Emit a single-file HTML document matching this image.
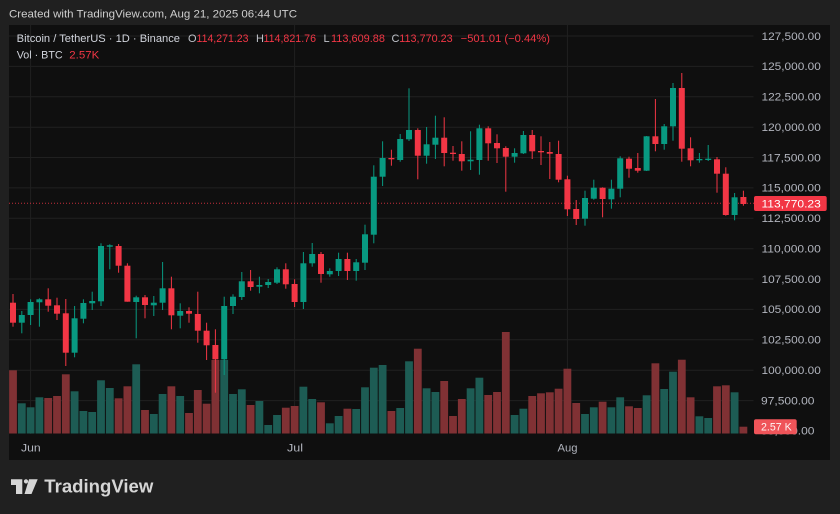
<!DOCTYPE html>
<html><head><meta charset="utf-8"><style>
html,body{margin:0;padding:0;background:#202020;}
body{width:840px;height:514px;overflow:hidden;}
svg{display:block;font-family:"Liberation Sans",Arial,sans-serif;}
.g rect{fill:#089981}
.r rect{fill:#f23645}
.vg{fill:#1d5c54}
.vr{fill:#803134}
.ax{fill:#b2b5be;font-size:11px}
</style></head><body>
<svg width="840" height="514" viewBox="0 0 840 514" xmlns="http://www.w3.org/2000/svg">
<rect x="0" y="0" width="840" height="514" fill="#202020"/>
<text x="9" y="17.7" font-size="11" fill="#cfcfcf" textLength="288" lengthAdjust="spacingAndGlyphs">Created with TradingView.com, Aug 21, 2025 06:44 UTC</text>
<rect x="9" y="25" width="821" height="435" fill="#0f0f0f"/>
<!-- grid -->
<g stroke="#202020" stroke-width="1">
<line x1="9" x2="753.5" y1="36" y2="36"/>
<line x1="9" x2="753.5" y1="66.4" y2="66.4"/>
<line x1="9" x2="753.5" y1="96.8" y2="96.8"/>
<line x1="9" x2="753.5" y1="127.2" y2="127.2"/>
<line x1="9" x2="753.5" y1="157.5" y2="157.5"/>
<line x1="9" x2="753.5" y1="187.9" y2="187.9"/>
<line x1="9" x2="753.5" y1="218.3" y2="218.3"/>
<line x1="9" x2="753.5" y1="248.7" y2="248.7"/>
<line x1="9" x2="753.5" y1="279" y2="279"/>
<line x1="9" x2="753.5" y1="309.4" y2="309.4"/>
<line x1="9" x2="753.5" y1="339.8" y2="339.8"/>
<line x1="9" x2="753.5" y1="370.2" y2="370.2"/>
<line x1="9" x2="753.5" y1="400.6" y2="400.6"/>
<line x1="30.6" x2="30.6" y1="25" y2="434"/>
<line x1="294.6" x2="294.6" y1="25" y2="434"/>
<line x1="567.4" x2="567.4" y1="25" y2="434"/>
</g>
<!-- volumes -->
<g>
<rect class="vr" x="9.1" y="370.3" width="7.8" height="63.2"/>
<rect class="vg" x="17.9" y="403.3" width="7.8" height="30.2"/>
<rect class="vg" x="26.7" y="407.3" width="7.8" height="26.2"/>
<rect class="vg" x="35.5" y="397.3" width="7.8" height="36.2"/>
<rect class="vr" x="44.3" y="398" width="7.8" height="35.5"/>
<rect class="vr" x="53.1" y="396" width="7.8" height="37.5"/>
<rect class="vr" x="61.9" y="374.3" width="7.8" height="59.2"/>
<rect class="vg" x="70.7" y="391.3" width="7.8" height="42.2"/>
<rect class="vg" x="79.5" y="411" width="7.8" height="22.5"/>
<rect class="vg" x="88.3" y="412" width="7.8" height="21.5"/>
<rect class="vg" x="97.1" y="380.3" width="7.8" height="53.2"/>
<rect class="vg" x="105.9" y="388" width="7.8" height="45.5"/>
<rect class="vr" x="114.7" y="398.3" width="7.8" height="35.2"/>
<rect class="vr" x="123.5" y="386.3" width="7.8" height="47.2"/>
<rect class="vg" x="132.3" y="364.3" width="7.8" height="69.2"/>
<rect class="vr" x="141.1" y="410" width="7.8" height="23.5"/>
<rect class="vg" x="149.9" y="414" width="7.8" height="19.5"/>
<rect class="vg" x="158.7" y="394" width="7.8" height="39.5"/>
<rect class="vr" x="167.5" y="386.3" width="7.8" height="47.2"/>
<rect class="vg" x="176.3" y="396" width="7.8" height="37.5"/>
<rect class="vr" x="185.1" y="413" width="7.8" height="20.5"/>
<rect class="vr" x="193.9" y="390" width="7.8" height="43.5"/>
<rect class="vr" x="202.7" y="403.7" width="7.8" height="29.8"/>
<rect class="vr" x="211.5" y="360" width="7.8" height="73.5"/>
<rect class="vg" x="220.3" y="360" width="7.8" height="73.5"/>
<rect class="vg" x="229.1" y="394" width="7.8" height="39.5"/>
<rect class="vg" x="237.9" y="389.3" width="7.8" height="44.2"/>
<rect class="vr" x="246.7" y="405" width="7.8" height="28.5"/>
<rect class="vg" x="255.5" y="401" width="7.8" height="32.5"/>
<rect class="vg" x="264.3" y="425" width="7.8" height="8.5"/>
<rect class="vg" x="273.1" y="415" width="7.8" height="18.5"/>
<rect class="vr" x="281.9" y="407.7" width="7.8" height="25.8"/>
<rect class="vr" x="290.7" y="406" width="7.8" height="27.5"/>
<rect class="vg" x="299.5" y="386.7" width="7.8" height="46.8"/>
<rect class="vg" x="308.3" y="399" width="7.8" height="34.5"/>
<rect class="vr" x="317.1" y="402.3" width="7.8" height="31.2"/>
<rect class="vg" x="325.9" y="423.3" width="7.8" height="10.2"/>
<rect class="vg" x="334.7" y="416" width="7.8" height="17.5"/>
<rect class="vr" x="343.5" y="408.7" width="7.8" height="24.8"/>
<rect class="vg" x="352.3" y="409" width="7.8" height="24.5"/>
<rect class="vg" x="361.1" y="387.3" width="7.8" height="46.2"/>
<rect class="vg" x="369.9" y="367.7" width="7.8" height="65.8"/>
<rect class="vg" x="378.7" y="365" width="7.8" height="68.5"/>
<rect class="vr" x="387.5" y="411" width="7.8" height="22.5"/>
<rect class="vg" x="396.3" y="408" width="7.8" height="25.5"/>
<rect class="vg" x="405.1" y="361.3" width="7.8" height="72.2"/>
<rect class="vr" x="413.9" y="348.7" width="7.8" height="84.8"/>
<rect class="vg" x="422.7" y="388.3" width="7.8" height="45.2"/>
<rect class="vg" x="431.5" y="392" width="7.8" height="41.5"/>
<rect class="vr" x="440.3" y="381" width="7.8" height="52.5"/>
<rect class="vr" x="449.1" y="416" width="7.8" height="17.5"/>
<rect class="vr" x="457.9" y="399" width="7.8" height="34.5"/>
<rect class="vg" x="466.7" y="388.3" width="7.8" height="45.2"/>
<rect class="vg" x="475.5" y="377.7" width="7.8" height="55.8"/>
<rect class="vr" x="484.3" y="395" width="7.8" height="38.5"/>
<rect class="vr" x="493.1" y="392" width="7.8" height="41.5"/>
<rect class="vr" x="501.9" y="332" width="7.8" height="101.5"/>
<rect class="vg" x="510.7" y="415" width="7.8" height="18.5"/>
<rect class="vg" x="519.5" y="408.7" width="7.8" height="24.8"/>
<rect class="vr" x="528.3" y="396" width="7.8" height="37.5"/>
<rect class="vr" x="537.1" y="393.3" width="7.8" height="40.2"/>
<rect class="vr" x="545.9" y="392.3" width="7.8" height="41.2"/>
<rect class="vr" x="554.7" y="388.7" width="7.8" height="44.8"/>
<rect class="vr" x="563.5" y="368.7" width="7.8" height="64.8"/>
<rect class="vr" x="572.3" y="403" width="7.8" height="30.5"/>
<rect class="vg" x="581.1" y="414" width="7.8" height="19.5"/>
<rect class="vg" x="589.9" y="407.3" width="7.8" height="26.2"/>
<rect class="vr" x="598.7" y="401.7" width="7.8" height="31.8"/>
<rect class="vg" x="607.5" y="407.3" width="7.8" height="26.2"/>
<rect class="vg" x="616.3" y="397.3" width="7.8" height="36.2"/>
<rect class="vr" x="625.1" y="406.3" width="7.8" height="27.2"/>
<rect class="vr" x="633.9" y="408" width="7.8" height="25.5"/>
<rect class="vg" x="642.7" y="395.3" width="7.8" height="38.2"/>
<rect class="vr" x="651.5" y="363.3" width="7.8" height="70.2"/>
<rect class="vg" x="660.3" y="389" width="7.8" height="44.5"/>
<rect class="vg" x="669.1" y="371.7" width="7.8" height="61.8"/>
<rect class="vr" x="677.9" y="359.7" width="7.8" height="73.8"/>
<rect class="vr" x="686.7" y="397.3" width="7.8" height="36.2"/>
<rect class="vg" x="695.5" y="416.3" width="7.8" height="17.2"/>
<rect class="vg" x="704.3" y="418" width="7.8" height="15.5"/>
<rect class="vr" x="713.1" y="386.3" width="7.8" height="47.2"/>
<rect class="vr" x="721.9" y="385.3" width="7.8" height="48.2"/>
<rect class="vg" x="730.7" y="392.3" width="7.8" height="41.2"/>
<rect class="vr" x="739.5" y="426.7" width="7.8" height="6.8"/>
</g>
<!-- price line -->
<line x1="9" x2="754" y1="203.3" y2="203.3" stroke="#f23645" stroke-width="1" stroke-dasharray="1 2" opacity="0.8"/>
<!-- candles -->
<g>
<g class="r" transform="translate(13 0)"><rect x="-.5" y="294" width="1" height="32.7"/><rect x="-3" y="302.7" width="6" height="20"/></g>
<g class="g" transform="translate(21.8 0)"><rect x="-.5" y="311" width="1" height="22.3"/><rect x="-3" y="315" width="6" height="7.7"/></g>
<g class="g" transform="translate(30.6 0)"><rect x="-.5" y="299.3" width="1" height="25.7"/><rect x="-3" y="302" width="6" height="13"/></g>
<g class="g" transform="translate(39.4 0)"><rect x="-.5" y="298.3" width="1" height="28.4"/><rect x="-3" y="299.3" width="6" height="3"/></g>
<g class="r" transform="translate(48.2 0)"><rect x="-.5" y="288.3" width="1" height="23.4"/><rect x="-3" y="299.3" width="6" height="6.4"/></g>
<g class="r" transform="translate(57 0)"><rect x="-.5" y="297.7" width="1" height="22.3"/><rect x="-3" y="305.3" width="6" height="8.4"/></g>
<g class="r" transform="translate(65.8 0)"><rect x="-.5" y="299" width="1" height="67"/><rect x="-3" y="313.3" width="6" height="39.4"/></g>
<g class="g" transform="translate(74.6 0)"><rect x="-.5" y="306" width="1" height="51.3"/><rect x="-3" y="318.3" width="6" height="34.4"/></g>
<g class="g" transform="translate(83.4 0)"><rect x="-.5" y="299.3" width="1" height="24"/><rect x="-3" y="303" width="6" height="15.7"/></g>
<g class="g" transform="translate(92.2 0)"><rect x="-.5" y="291.7" width="1" height="18.3"/><rect x="-3" y="301" width="6" height="2.3"/></g>
<g class="g" transform="translate(101 0)"><rect x="-.5" y="243.3" width="1" height="62.7"/><rect x="-3" y="246" width="6" height="55.3"/></g>
<g class="g" transform="translate(109.8 0)"><rect x="-.5" y="244.3" width="1" height="25"/><rect x="-3" y="245.3" width="6" height="1.4"/></g>
<g class="r" transform="translate(118.6 0)"><rect x="-.5" y="244" width="1" height="28.7"/><rect x="-3" y="246" width="6" height="19.7"/></g>
<g class="r" transform="translate(127.4 0)"><rect x="-.5" y="263.3" width="1" height="38.4"/><rect x="-3" y="265.7" width="6" height="36"/></g>
<g class="g" transform="translate(136.2 0)"><rect x="-.5" y="295.7" width="1" height="42.6"/><rect x="-3" y="297.3" width="6" height="4.7"/></g>
<g class="r" transform="translate(145 0)"><rect x="-.5" y="295" width="1" height="23.3"/><rect x="-3" y="297.3" width="6" height="7.7"/></g>
<g class="g" transform="translate(153.8 0)"><rect x="-.5" y="296" width="1" height="20"/><rect x="-3" y="302.7" width="6" height="2.6"/></g>
<g class="g" transform="translate(162.6 0)"><rect x="-.5" y="262" width="1" height="48"/><rect x="-3" y="288.3" width="6" height="14.4"/></g>
<g class="r" transform="translate(171.4 0)"><rect x="-.5" y="276.7" width="1" height="52.6"/><rect x="-3" y="288.3" width="6" height="27"/></g>
<g class="g" transform="translate(180.2 0)"><rect x="-.5" y="303.3" width="1" height="25"/><rect x="-3" y="311" width="6" height="4.7"/></g>
<g class="r" transform="translate(189 0)"><rect x="-.5" y="307.3" width="1" height="15.4"/><rect x="-3" y="311" width="6" height="2.7"/></g>
<g class="r" transform="translate(197.8 0)"><rect x="-.5" y="291.7" width="1" height="51"/><rect x="-3" y="314" width="6" height="16.7"/></g>
<g class="r" transform="translate(206.6 0)"><rect x="-.5" y="322.7" width="1" height="37.3"/><rect x="-3" y="330.7" width="6" height="14.6"/></g>
<g class="r" transform="translate(215.4 0)"><rect x="-.5" y="329.3" width="1" height="63.4"/><rect x="-3" y="345" width="6" height="14.3"/></g>
<g class="g" transform="translate(224.2 0)"><rect x="-.5" y="296.7" width="1" height="78.3"/><rect x="-3" y="306" width="6" height="53.3"/></g>
<g class="g" transform="translate(233 0)"><rect x="-.5" y="294.3" width="1" height="19.7"/><rect x="-3" y="296.7" width="6" height="9.3"/></g>
<g class="g" transform="translate(241.8 0)"><rect x="-.5" y="272" width="1" height="28"/><rect x="-3" y="281.3" width="6" height="15.7"/></g>
<g class="r" transform="translate(250.6 0)"><rect x="-.5" y="270" width="1" height="20.7"/><rect x="-3" y="281.3" width="6" height="5.7"/></g>
<g class="g" transform="translate(259.4 0)"><rect x="-.5" y="276.7" width="1" height="16.6"/><rect x="-3" y="285" width="6" height="1.7"/></g>
<g class="g" transform="translate(268.2 0)"><rect x="-.5" y="279" width="1" height="9"/><rect x="-3" y="282" width="6" height="3"/></g>
<g class="g" transform="translate(277 0)"><rect x="-.5" y="267.3" width="1" height="16.7"/><rect x="-3" y="269.3" width="6" height="13.4"/></g>
<g class="r" transform="translate(285.8 0)"><rect x="-.5" y="263.3" width="1" height="25.4"/><rect x="-3" y="269.3" width="6" height="15"/></g>
<g class="r" transform="translate(294.6 0)"><rect x="-.5" y="279.3" width="1" height="27.7"/><rect x="-3" y="284" width="6" height="18"/></g>
<g class="g" transform="translate(303.4 0)"><rect x="-.5" y="252" width="1" height="57"/><rect x="-3" y="263.3" width="6" height="38.7"/></g>
<g class="g" transform="translate(312.2 0)"><rect x="-.5" y="243" width="1" height="23.7"/><rect x="-3" y="254" width="6" height="9.3"/></g>
<g class="r" transform="translate(321 0)"><rect x="-.5" y="252" width="1" height="30.7"/><rect x="-3" y="254" width="6" height="20"/></g>
<g class="g" transform="translate(329.8 0)"><rect x="-.5" y="268.3" width="1" height="8.4"/><rect x="-3" y="271" width="6" height="3.3"/></g>
<g class="g" transform="translate(338.6 0)"><rect x="-.5" y="252.7" width="1" height="23.3"/><rect x="-3" y="259" width="6" height="12"/></g>
<g class="r" transform="translate(347.4 0)"><rect x="-.5" y="252.7" width="1" height="27.3"/><rect x="-3" y="259" width="6" height="12"/></g>
<g class="g" transform="translate(356.2 0)"><rect x="-.5" y="259" width="1" height="21.7"/><rect x="-3" y="262.3" width="6" height="8.7"/></g>
<g class="g" transform="translate(365 0)"><rect x="-.5" y="224.7" width="1" height="45.3"/><rect x="-3" y="234.3" width="6" height="28.4"/></g>
<g class="g" transform="translate(373.8 0)"><rect x="-.5" y="165.3" width="1" height="78"/><rect x="-3" y="176.7" width="6" height="58"/></g>
<g class="g" transform="translate(382.6 0)"><rect x="-.5" y="141.3" width="1" height="44.7"/><rect x="-3" y="158" width="6" height="18.7"/></g>
<g class="r" transform="translate(391.4 0)"><rect x="-.5" y="149.7" width="1" height="16"/><rect x="-3" y="158" width="6" height="1.3"/></g>
<g class="g" transform="translate(400.2 0)"><rect x="-.5" y="134" width="1" height="27.7"/><rect x="-3" y="139" width="6" height="21"/></g>
<g class="g" transform="translate(409 0)"><rect x="-.5" y="88.3" width="1" height="52.7"/><rect x="-3" y="130" width="6" height="9.3"/></g>
<g class="r" transform="translate(417.8 0)"><rect x="-.5" y="128.3" width="1" height="51"/><rect x="-3" y="130" width="6" height="25.7"/></g>
<g class="g" transform="translate(426.6 0)"><rect x="-.5" y="127" width="1" height="36.7"/><rect x="-3" y="144.3" width="6" height="11.4"/></g>
<g class="g" transform="translate(435.4 0)"><rect x="-.5" y="115.7" width="1" height="43.3"/><rect x="-3" y="137.7" width="6" height="7"/></g>
<g class="r" transform="translate(444.2 0)"><rect x="-.5" y="117.3" width="1" height="49"/><rect x="-3" y="137.7" width="6" height="15.3"/></g>
<g class="r" transform="translate(453 0)"><rect x="-.5" y="146" width="1" height="14.7"/><rect x="-3" y="152.7" width="6" height="1.3"/></g>
<g class="r" transform="translate(461.8 0)"><rect x="-.5" y="141.3" width="1" height="29.4"/><rect x="-3" y="154" width="6" height="7.3"/></g>
<g class="g" transform="translate(470.6 0)"><rect x="-.5" y="131.3" width="1" height="38.7"/><rect x="-3" y="159.7" width="6" height="1.6"/></g>
<g class="g" transform="translate(479.4 0)"><rect x="-.5" y="124.7" width="1" height="50"/><rect x="-3" y="128.3" width="6" height="31.7"/></g>
<g class="r" transform="translate(488.2 0)"><rect x="-.5" y="126.3" width="1" height="34.4"/><rect x="-3" y="128.3" width="6" height="15"/></g>
<g class="r" transform="translate(497 0)"><rect x="-.5" y="134.3" width="1" height="28.7"/><rect x="-3" y="143" width="6" height="5.3"/></g>
<g class="r" transform="translate(505.8 0)"><rect x="-.5" y="146.3" width="1" height="45.4"/><rect x="-3" y="148" width="6" height="8.7"/></g>
<g class="g" transform="translate(514.6 0)"><rect x="-.5" y="148.3" width="1" height="14.4"/><rect x="-3" y="153" width="6" height="3.7"/></g>
<g class="g" transform="translate(523.4 0)"><rect x="-.5" y="131" width="1" height="23"/><rect x="-3" y="135" width="6" height="18.3"/></g>
<g class="r" transform="translate(532.2 0)"><rect x="-.5" y="130" width="1" height="29"/><rect x="-3" y="135" width="6" height="16.3"/></g>
<g class="r" transform="translate(541 0)"><rect x="-.5" y="136.3" width="1" height="28.7"/><rect x="-3" y="151" width="6" height="1.3"/></g>
<g class="r" transform="translate(549.8 0)"><rect x="-.5" y="142" width="1" height="37"/><rect x="-3" y="152" width="6" height="1.7"/></g>
<g class="r" transform="translate(558.6 0)"><rect x="-.5" y="140.7" width="1" height="41.6"/><rect x="-3" y="154" width="6" height="25.7"/></g>
<g class="r" transform="translate(567.4 0)"><rect x="-.5" y="175.7" width="1" height="40.3"/><rect x="-3" y="179.3" width="6" height="30"/></g>
<g class="r" transform="translate(576.2 0)"><rect x="-.5" y="200" width="1" height="25"/><rect x="-3" y="209" width="6" height="10"/></g>
<g class="g" transform="translate(585 0)"><rect x="-.5" y="190.7" width="1" height="35"/><rect x="-3" y="198" width="6" height="20.7"/></g>
<g class="g" transform="translate(593.8 0)"><rect x="-.5" y="179.7" width="1" height="20"/><rect x="-3" y="187.7" width="6" height="11"/></g>
<g class="r" transform="translate(602.6 0)"><rect x="-.5" y="187.3" width="1" height="30"/><rect x="-3" y="187.7" width="6" height="11.3"/></g>
<g class="g" transform="translate(611.4 0)"><rect x="-.5" y="179.7" width="1" height="29"/><rect x="-3" y="188.7" width="6" height="10.6"/></g>
<g class="g" transform="translate(620.2 0)"><rect x="-.5" y="156.3" width="1" height="41"/><rect x="-3" y="158.3" width="6" height="30.4"/></g>
<g class="r" transform="translate(629 0)"><rect x="-.5" y="156.7" width="1" height="21"/><rect x="-3" y="158.7" width="6" height="10"/></g>
<g class="r" transform="translate(637.8 0)"><rect x="-.5" y="153" width="1" height="19.7"/><rect x="-3" y="168" width="6" height="2.7"/></g>
<g class="g" transform="translate(646.6 0)"><rect x="-.5" y="136" width="1" height="35"/><rect x="-3" y="136.3" width="6" height="34.4"/></g>
<g class="r" transform="translate(655.4 0)"><rect x="-.5" y="99" width="1" height="52.3"/><rect x="-3" y="136.3" width="6" height="7.7"/></g>
<g class="g" transform="translate(664.2 0)"><rect x="-.5" y="124" width="1" height="25.7"/><rect x="-3" y="126.3" width="6" height="17.7"/></g>
<g class="g" transform="translate(673 0)"><rect x="-.5" y="83" width="1" height="57.7"/><rect x="-3" y="88" width="6" height="38.3"/></g>
<g class="r" transform="translate(681.8 0)"><rect x="-.5" y="73" width="1" height="88.7"/><rect x="-3" y="88" width="6" height="60.7"/></g>
<g class="r" transform="translate(690.6 0)"><rect x="-.5" y="137.3" width="1" height="29"/><rect x="-3" y="148.3" width="6" height="12"/></g>
<g class="g" transform="translate(699.4 0)"><rect x="-.5" y="153" width="1" height="9.7"/><rect x="-3" y="159" width="6" height="1.3"/></g>
<g class="g" transform="translate(708.2 0)"><rect x="-.5" y="145" width="1" height="16"/><rect x="-3" y="158.7" width="6" height="1.3"/></g>
<g class="r" transform="translate(717 0)"><rect x="-.5" y="157" width="1" height="35.7"/><rect x="-3" y="159.3" width="6" height="14.4"/></g>
<g class="r" transform="translate(725.8 0)"><rect x="-.5" y="167.3" width="1" height="48.4"/><rect x="-3" y="173.7" width="6" height="41.3"/></g>
<g class="g" transform="translate(734.6 0)"><rect x="-.5" y="193" width="1" height="27.3"/><rect x="-3" y="197.3" width="6" height="17.7"/></g>
<g class="r" transform="translate(743.4 0)"><rect x="-.5" y="190.7" width="1" height="15"/><rect x="-3" y="197" width="6" height="7"/></g>
</g>
<!-- legend -->
<g font-size="11">
<text x="16.7" y="42" fill="#d1d4dc" textLength="163.3" lengthAdjust="spacingAndGlyphs">Bitcoin / TetherUS · 1D · Binance</text>
<text x="188" y="42" fill="#c0c3ca">O</text>
<text x="196.5" y="42" fill="#f23645" textLength="52" lengthAdjust="spacingAndGlyphs">114,271.23</text>
<text x="256" y="42" fill="#c0c3ca">H</text>
<text x="263.5" y="42" fill="#f23645" textLength="52.5" lengthAdjust="spacingAndGlyphs">114,821.76</text>
<text x="323.5" y="42" fill="#c0c3ca">L</text>
<text x="331" y="42" fill="#f23645" textLength="54" lengthAdjust="spacingAndGlyphs">113,609.88</text>
<text x="391.5" y="42" fill="#c0c3ca">C</text>
<text x="399.3" y="42" fill="#f23645" textLength="53.4" lengthAdjust="spacingAndGlyphs">113,770.23</text>
<text x="460.7" y="42" fill="#f23645" textLength="89.3" lengthAdjust="spacingAndGlyphs">−501.01 (−0.44%)</text>
<text x="16.7" y="58.3" fill="#d1d4dc" textLength="46" lengthAdjust="spacingAndGlyphs">Vol · BTC</text>
<text x="69.3" y="58.3" fill="#f23645" textLength="30" lengthAdjust="spacingAndGlyphs">2.57K</text>
</g>
<!-- price axis -->
<g class="ax">
<text x="761.5" y="39.8" textLength="59.3" lengthAdjust="spacingAndGlyphs">127,500.00</text>
<text x="761.5" y="70.2" textLength="59.3" lengthAdjust="spacingAndGlyphs">125,000.00</text>
<text x="761.5" y="100.6" textLength="59.3" lengthAdjust="spacingAndGlyphs">122,500.00</text>
<text x="761.5" y="131" textLength="59.3" lengthAdjust="spacingAndGlyphs">120,000.00</text>
<text x="761.5" y="161.3" textLength="59.3" lengthAdjust="spacingAndGlyphs">117,500.00</text>
<text x="761.5" y="191.7" textLength="59.3" lengthAdjust="spacingAndGlyphs">115,000.00</text>
<text x="761.5" y="222.1" textLength="59.3" lengthAdjust="spacingAndGlyphs">112,500.00</text>
<text x="761.5" y="252.5" textLength="59.3" lengthAdjust="spacingAndGlyphs">110,000.00</text>
<text x="761.5" y="282.8" textLength="59.3" lengthAdjust="spacingAndGlyphs">107,500.00</text>
<text x="761.5" y="313.2" textLength="59.3" lengthAdjust="spacingAndGlyphs">105,000.00</text>
<text x="761.5" y="343.6" textLength="59.3" lengthAdjust="spacingAndGlyphs">102,500.00</text>
<text x="761.5" y="374" textLength="59.3" lengthAdjust="spacingAndGlyphs">100,000.00</text>
<text x="761" y="404.4" textLength="53.5" lengthAdjust="spacingAndGlyphs">97,500.00</text>
<text x="761" y="434.6" textLength="53.5" lengthAdjust="spacingAndGlyphs">95,000.00</text>
</g>
<rect x="754" y="196" width="72.7" height="15" rx="2" fill="#f23645"/>
<text x="761.5" y="207.3" font-size="11" fill="#ffffff" textLength="59.3" lengthAdjust="spacingAndGlyphs">113,770.23</text>
<rect x="754" y="419.3" width="42.7" height="15" rx="2" fill="#ef5459"/>
<text x="761" y="430.6" font-size="11" fill="#fff4f4" textLength="30.7" lengthAdjust="spacingAndGlyphs">2.57 K</text>
<!-- time axis -->
<g class="ax">
<text x="21" y="451.5" textLength="19.7" lengthAdjust="spacingAndGlyphs">Jun</text>
<text x="287" y="451.5" textLength="16" lengthAdjust="spacingAndGlyphs">Jul</text>
<text x="557.5" y="451.5" textLength="20" lengthAdjust="spacingAndGlyphs">Aug</text>
</g>
<!-- footer logo -->
<g fill="#d6d6d6">
<path d="M11 479.3H22.3V494H16V485H11Z"/>
<circle cx="26" cy="481.4" r="2.1"/>
<path d="M29 479.3H37.7L31.5 494H24.5Z"/>
</g>
<text x="44.3" y="492.7" font-size="18.5" font-weight="bold" fill="#d6d6d6" textLength="109" lengthAdjust="spacingAndGlyphs">TradingView</text>
</svg>
</body></html>
